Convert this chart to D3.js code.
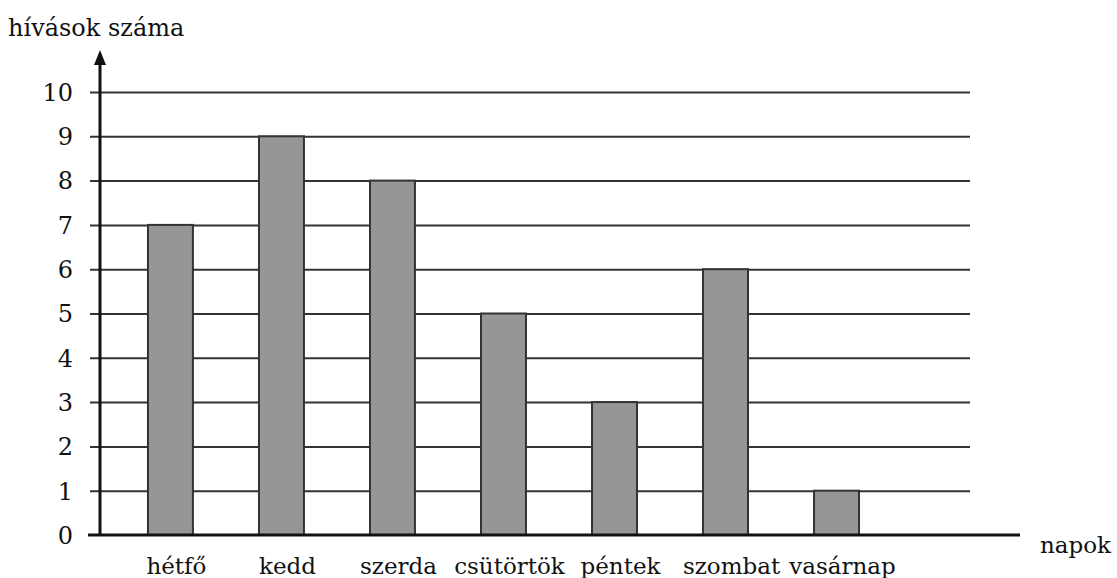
<!DOCTYPE html>
<html>
<head>
<meta charset="utf-8">
<script src="https://cdn.jsdelivr.net/npm/d3@7"></script>
<style>
  body { margin: 0; background: #fff; }
</style>
</head>
<body>
<div id="visContainer"></div>
<script>
'use strict';

// days of the week (x categories)
const days = ["hétfő", "kedd", "szerda", "csütörtök", "péntek", "szombat", "vasárnap"];
// number of calls per day
const calls = [7, 9, 8, 5, 3, 6, 1];
// y tick labels
const yTicks = [0, 1, 2, 3, 4, 5, 6, 7, 8, 9, 10];

var fontFam = '"DejaVu Serif", serif';

var svg = d3.select('#visContainer')
    .append('svg')
    .attr('width', 1117)
    .attr('height', 578)
    .style('font-family', fontFam);

// plot area
var axisX = 100, baseY = 535, gridEnd = 970, baseEnd = 1020;

var y = d3.scaleLinear().domain([0, 10]).range([baseY, 92]);
var x = d3.scaleBand().domain(days)
    .range([axisX, axisX + 111 * 7.27])
    .paddingInner(0.595)
    .paddingOuter(0.432);

// horizontal grid lines with ticks sticking out left of the axis
svg.append('g')
    .attr('transform', 'translate(' + (axisX - 10) + ',0)')
    .call(d3.axisRight(y).tickValues(yTicks.slice(1)).tickSize(gridEnd - axisX + 10).tickFormat(''))
    .call(function(g) {
        g.select('.domain').remove();
        g.selectAll('line').attr('stroke', '#333').attr('stroke-width', 2);
    });

// bars
svg.selectAll('rect.bar')
    .data(days)
    .enter().append('rect')
    .attr('class', 'bar')
    .attr('x', function(d) { return x(d); })
    .attr('y', function(d, i) { return y(calls[i]); })
    .attr('width', x.bandwidth())
    .attr('height', function(d, i) { return baseY - y(calls[i]); })
    .attr('fill', '#969696')
    .attr('stroke', '#333')
    .attr('stroke-width', 2);

// y tick labels
svg.selectAll('text.ytick')
    .data(yTicks)
    .enter().append('text')
    .attr('class', 'ytick')
    .attr('x', 73)
    .attr('y', function(d) { return y(d); })
    .attr('dy', '0.37em')
    .attr('text-anchor', 'end')
    .attr('fill', '#111')
    .style('font-size', '24px')
    .text(function(d) { return d; });

// x category labels
svg.selectAll('text.xlabel')
    .data(days)
    .enter().append('text')
    .attr('class', 'xlabel')
    .attr('x', function(d) { return x(d) + x.bandwidth() / 2 + 6; })
    .attr('y', 574)
    .attr('text-anchor', 'middle')
    .attr('fill', '#111')
    .style('font-size', '23px')
    .text(function(d) { return d; });

// x axis baseline
svg.append('line')
    .attr('x1', axisX - 12).attr('x2', baseEnd)
    .attr('y1', baseY).attr('y2', baseY)
    .attr('stroke', '#111').attr('stroke-width', 3);

// y axis with arrow
svg.append('line')
    .attr('x1', axisX).attr('x2', axisX)
    .attr('y1', baseY).attr('y2', 62)
    .attr('stroke', '#111').attr('stroke-width', 3);

svg.append('path')
    .attr('d', d3.line()([[axisX - 6, 65], [axisX, 50], [axisX + 6, 65]]) + 'Z')
    .attr('fill', '#111');

// axis titles
svg.append('text')
    .attr('x', 8).attr('y', 36)
    .attr('fill', '#111')
    .style('font-size', '24px')
    .text('hívások száma');

svg.append('text')
    .attr('x', 1040).attr('y', 553)
    .attr('fill', '#111')
    .style('font-size', '23px')
    .text('napok');
</script>
</body>
</html>
